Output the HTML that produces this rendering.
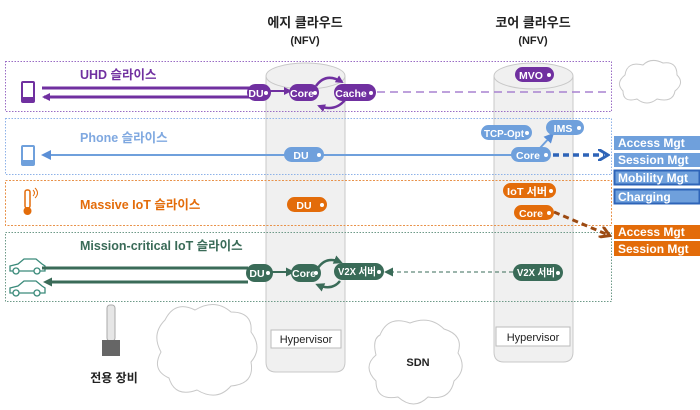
<!DOCTYPE html>
<html><head><meta charset="utf-8"><style>
body{margin:0;background:#fff}
svg{display:block}
text{font-family:"Liberation Sans","Noto Sans CJK KR",sans-serif}
.p{font-size:10.5px;font-weight:bold;fill:#fff}
</style></head><body>
<svg width="700" height="410" viewBox="0 0 700 410">
<defs>
<marker id="ap" markerWidth="8" markerHeight="8" refX="6" refY="4" orient="auto" markerUnits="userSpaceOnUse"><path d="M0,0 L8,4 L0,8z" fill="#7030a0"/></marker>
<marker id="ab" markerWidth="10" markerHeight="10" refX="7" refY="5" orient="auto" markerUnits="userSpaceOnUse"><path d="M0,0 L10,5 L0,10z" fill="#5b8fd6"/></marker>
<marker id="ag" markerWidth="9" markerHeight="9" refX="6" refY="4.5" orient="auto" markerUnits="userSpaceOnUse"><path d="M0,0 L9,4.5 L0,9z" fill="#3a6b58"/></marker>
<marker id="abd" markerWidth="12" markerHeight="12" refX="6" refY="6" orient="auto" markerUnits="userSpaceOnUse"><path d="M0,0 L10,6 L0,12" fill="none" stroke="#2e64b8" stroke-width="3"/></marker>
<marker id="ao" markerWidth="12" markerHeight="12" refX="6" refY="6" orient="auto" markerUnits="userSpaceOnUse"><path d="M0,0 L10,6 L0,12" fill="none" stroke="#9c4a12" stroke-width="3"/></marker>
</defs>
<text x="305" y="27" text-anchor="middle" font-size="13" font-weight="bold" fill="#222">에지 클라우드</text>
<text x="305" y="44" text-anchor="middle" font-size="11" font-weight="bold" fill="#222">(NFV)</text>
<text x="533" y="27" text-anchor="middle" font-size="13" font-weight="bold" fill="#222">코어 클라우드</text>
<text x="533" y="44" text-anchor="middle" font-size="11" font-weight="bold" fill="#222">(NFV)</text>
<path d="M266,76 L266,362 Q266,372 276,372 L335,372 Q345,372 345,362 L345,76" fill="#f0f0f0" stroke="#c8c8c8"/>
<ellipse cx="305.5" cy="76" rx="39.5" ry="13" fill="#f0f0f0" stroke="#c8c8c8"/>
<path d="M494,76 L494,352 Q494,362 504,362 L563,362 Q573,362 573,352 L573,76" fill="#f0f0f0" stroke="#c8c8c8"/>
<ellipse cx="533.5" cy="76" rx="39.5" ry="13" fill="#f0f0f0" stroke="#c8c8c8"/>
<rect x="271" y="330" width="70" height="18" fill="#fff" stroke="#bbb"/><text x="306" y="343" text-anchor="middle" font-size="11" fill="#222">Hypervisor</text>
<rect x="496" y="327" width="74" height="19" fill="#fff" stroke="#bbb"/><text x="533" y="341" text-anchor="middle" font-size="11" fill="#222">Hypervisor</text>
<g fill="#fff" stroke="#c8c8c8">
<path d="M625,75 q2,-14 18,-10 q8,-8 20,-2 q14,-2 14,12 q8,8 -2,16 q-2,12 -18,8 q-10,8 -20,0 q-14,4 -14,-8 q-8,-8 2,-16z"/>
<path d="M165,320 q10,-20 30,-10 q20,-12 36,2 q22,0 20,20 q12,16 0,30 q4,22 -20,24 q-14,16 -34,4 q-22,8 -28,-12 q-18,-8 -8,-26 q-10,-18 4,-32z"/>
<path d="M380,335 q8,-20 30,-12 q20,-8 34,6 q20,6 14,24 q10,16 -4,28 q-4,20 -26,16 q-14,14 -30,0 q-22,4 -22,-16 q-14,-14 0,-26 q-4,-16 4,-20z"/>
</g>
<text x="418" y="366" text-anchor="middle" font-size="11" font-weight="bold" fill="#222">SDN</text>
<rect x="107" y="305" width="8" height="36" rx="3" fill="#e6e6e6" stroke="#aaa"/>
<rect x="102" y="340" width="18" height="16" fill="#666"/>
<text x="114" y="382" text-anchor="middle" font-size="12" font-weight="bold" fill="#222">전용 장비</text>
<rect x="5.5" y="61.5" width="606" height="50" fill="none" stroke="#9a6cc4" stroke-dasharray="1.5,1.5"/>
<rect x="5.5" y="118.5" width="606" height="56" fill="none" stroke="#8db2e8" stroke-dasharray="1.5,1.5"/>
<rect x="5.5" y="180.5" width="606" height="45" fill="none" stroke="#e8924a" stroke-dasharray="2,1.5"/>
<rect x="5.5" y="232.5" width="606" height="69" fill="none" stroke="#6e9a88" stroke-dasharray="1.5,1.5"/>
<text x="80" y="79" font-size="12.5" font-weight="bold" fill="#7030a0">UHD 슬라이스</text>
<text x="80" y="142" font-size="12.5" font-weight="bold" fill="#7fa8e0">Phone 슬라이스</text>
<text x="80" y="209" font-size="12.5" font-weight="bold" fill="#e36c0a">Massive IoT 슬라이스</text>
<text x="80" y="250" font-size="12.5" font-weight="bold" fill="#3a6b58">Mission-critical IoT 슬라이스</text>
<rect x="22" y="82" width="12" height="20" rx="1" fill="#fff" stroke="#7030a0" stroke-width="2"/><rect x="22" y="97" width="12" height="5" fill="#7030a0"/>
<rect x="22" y="146" width="12" height="19" rx="1" fill="#fff" stroke="#6fa0dc" stroke-width="2"/><rect x="22" y="160" width="12" height="5" fill="#6fa0dc"/>
<rect x="25" y="190" width="5" height="18" rx="2" fill="#fff" stroke="#e36c0a" stroke-width="1.5"/><circle cx="27.5" cy="211" r="4" fill="#e36c0a"/>
<path d="M33,190 q3,3 0,6 M35,188 q5,5 0,10" fill="none" stroke="#e36c0a"/>
<g fill="none" stroke="#3a8a7a" stroke-width="1.3">
<path d="M10,271 l0,-5 l8,-2 l6,-5 l12,0 l6,5 l3,2 l0,5z"/><circle cx="16" cy="271" r="3" fill="#fff"/><circle cx="37" cy="271" r="3" fill="#fff"/>
<path d="M10,293 l0,-5 l8,-2 l6,-5 l12,0 l6,5 l3,2 l0,5z"/><circle cx="16" cy="293" r="3" fill="#fff"/><circle cx="37" cy="293" r="3" fill="#fff"/>
</g>
<line x1="42" y1="88" x2="250" y2="88" stroke="#7030a0" stroke-width="3"/>
<line x1="250" y1="97" x2="44" y2="97" stroke="#7030a0" stroke-width="3" marker-end="url(#ap)"/>
<line x1="270" y1="91" x2="290" y2="91" stroke="#7030a0" stroke-width="2" marker-end="url(#ap)"/>
<path d="M316,86 q10,-14 26,-4" fill="none" stroke="#7030a0" stroke-width="2.5" marker-end="url(#ap)"/>
<path d="M345,100 q-10,12 -26,6" fill="none" stroke="#7030a0" stroke-width="2.5" marker-end="url(#ap)"/>
<line x1="377" y1="92" x2="612" y2="92" stroke="#a882d0" stroke-width="1.5" stroke-dasharray="8,5"/>
<line x1="512" y1="155" x2="44" y2="155" stroke="#6fa0dc" stroke-width="2" marker-end="url(#ab)"/>
<line x1="540" y1="148" x2="552" y2="135" stroke="#6fa0dc" stroke-width="2" marker-end="url(#ab)"/>
<line x1="553" y1="155" x2="604" y2="155" stroke="#2e64b8" stroke-width="3.5" stroke-dasharray="6,4" marker-end="url(#abd)"/>
<line x1="554" y1="212" x2="606" y2="234" stroke="#9c4a12" stroke-width="3" stroke-dasharray="6,4" marker-end="url(#ao)"/>
<line x1="42" y1="268" x2="248" y2="268" stroke="#3a6b58" stroke-width="3"/>
<line x1="248" y1="282" x2="46" y2="282" stroke="#3a6b58" stroke-width="3" marker-end="url(#ag)"/>
<line x1="272" y1="272" x2="292" y2="272" stroke="#3a6b58" stroke-width="2" marker-end="url(#ag)"/>
<path d="M318,268 q8,-12 22,-6" fill="none" stroke="#3a6b58" stroke-width="2.5" marker-end="url(#ag)"/>
<path d="M340,281 q-8,10 -22,4" fill="none" stroke="#3a6b58" stroke-width="2.5" marker-end="url(#ag)"/>
<line x1="513" y1="272" x2="387" y2="272" stroke="#3a6b58" stroke-width="1" stroke-dasharray="4,3" marker-end="url(#ag)"/>
<g>
<rect x="247" y="84" width="24" height="17" rx="8.5" fill="#7030a0"/><text x="256" y="97" class="p" text-anchor="middle">DU</text>
<rect x="289" y="84" width="30" height="17" rx="8.5" fill="#7030a0"/><text x="302" y="97" class="p" text-anchor="middle">Core</text>
<rect x="334" y="84" width="42" height="17" rx="8.5" fill="#7030a0"/><text x="351" y="97" class="p" text-anchor="middle">Cache</text>
<rect x="515" y="67" width="39" height="15" rx="7.5" fill="#7030a0"/><text x="531" y="79" class="p" text-anchor="middle">MVO</text>
<rect x="284" y="147" width="40" height="15" rx="7.5" fill="#6fa0dc"/><text x="301" y="159" class="p" text-anchor="middle">DU</text>
<rect x="481" y="125" width="51" height="15" rx="7.5" fill="#6fa0dc"/><text x="484" y="137" class="p" textLength="40" lengthAdjust="spacingAndGlyphs">TCP-Opt</text>
<rect x="546" y="120" width="38" height="15" rx="7.5" fill="#6fa0dc"/><text x="563" y="132" class="p" text-anchor="middle">IMS</text>
<rect x="511" y="147" width="40" height="15" rx="7.5" fill="#6fa0dc"/><text x="528" y="159" class="p" text-anchor="middle">Core</text>
<rect x="287" y="197" width="40" height="15" rx="7.5" fill="#e36c0a"/><text x="304" y="209" class="p" text-anchor="middle">DU</text>
<rect x="503" y="183" width="53" height="15" rx="7.5" fill="#e36c0a"/><text x="507" y="195" class="p" textLength="40" lengthAdjust="spacingAndGlyphs">IoT 서버</text>
<rect x="514" y="205" width="40" height="15" rx="7.5" fill="#e36c0a"/><text x="531" y="217" class="p" text-anchor="middle">Core</text>
<rect x="246" y="264" width="27" height="18" rx="9" fill="#3a6b58"/><text x="257" y="277" class="p" text-anchor="middle">DU</text>
<rect x="291" y="264" width="30" height="18" rx="9" fill="#3a6b58"/><text x="304" y="277" class="p" text-anchor="middle">Core</text>
<rect x="334" y="263" width="50" height="17" rx="8.5" fill="#3a6b58"/><text x="338" y="275" class="p" textLength="38" lengthAdjust="spacingAndGlyphs">V2X 서버</text>
<rect x="513" y="264" width="50" height="17" rx="8.5" fill="#3a6b58"/><text x="517" y="276" class="p" textLength="38" lengthAdjust="spacingAndGlyphs">V2X 서버</text>
</g>
<g fill="#fff">
<circle cx="266" cy="93" r="2"/><circle cx="315" cy="93" r="2"/><circle cx="371" cy="93" r="2"/><circle cx="549" cy="75" r="2"/>
<circle cx="319" cy="155" r="2"/><circle cx="527" cy="133" r="2"/><circle cx="579" cy="128" r="2"/><circle cx="546" cy="155" r="2"/>
<circle cx="322" cy="205" r="2"/><circle cx="551" cy="191" r="2"/><circle cx="549" cy="213" r="2"/>
<circle cx="268" cy="273" r="2"/><circle cx="316" cy="273" r="2"/><circle cx="379" cy="272" r="2"/><circle cx="558" cy="273" r="2"/>
</g>
<g font-size="12" font-weight="bold" fill="#fff">
<rect x="614" y="136" width="86" height="14" fill="#6fa0dc"/><text x="618" y="147" fill="#fff">Access Mgt</text>
<rect x="614" y="153" width="86" height="14" fill="#6fa0dc"/><text x="618" y="164" fill="#fff">Session Mgt</text>
<rect x="614.5" y="170.5" width="85" height="14" fill="#6fa0dc" stroke="#2e64b8" stroke-width="2"/><text x="618" y="182" fill="#fff">Mobility Mgt</text>
<rect x="614.5" y="189.5" width="85" height="14" fill="#6fa0dc" stroke="#2e64b8" stroke-width="2"/><text x="618" y="201" fill="#fff">Charging</text>
<rect x="614" y="225" width="86" height="14" fill="#e36c0a"/><text x="618" y="236" fill="#fff">Access Mgt</text>
<rect x="614" y="241" width="86" height="15" fill="#e36c0a"/><text x="618" y="253" fill="#fff">Session Mgt</text>
</g>
</svg>
</body></html>
